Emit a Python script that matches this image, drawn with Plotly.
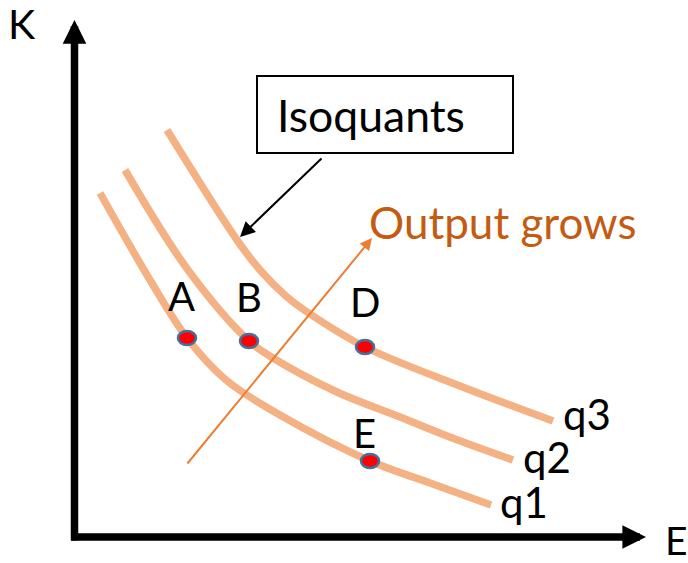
import plotly.graph_objects as go

# ---- data (diagram units: x grows right, y grows downward as in the picture) ----
q1_x = [100, 150, 187, 226, 280, 370, 430, 491]
q1_y = [193, 280, 338, 380, 415, 461, 483, 505]

q2_x = [125, 188, 249, 273, 337, 400, 455, 513]
q2_y = [170, 270, 341, 358, 392, 417, 439, 460]

q3_x = [167, 237, 260, 287, 310, 365, 460, 553]
q3_y = [130, 240, 270, 297, 314, 347, 386, 421]

curve_names = ["q1", "q2", "q3"]
curve_label_x = [524, 547, 587]
curve_label_y = [502, 457, 414]

point_names = ["A", "B", "D", "E"]
point_x = [187, 249, 365, 370]
point_y = [338, 341, 347, 461]
point_label_x = [181, 249, 365, 364]
point_label_y = [296, 297, 302, 433]

# axes of the diagram (origin, ends)
axis_origin = (74.5, 537)
k_axis_tip = (74.5, 20)
e_axis_tip = (646, 537)

# annotations
box_corners = (257, 76, 513, 153)
box_arrow_from = (322, 158)
box_arrow_to = (240, 237)
growth_from = (187, 464)
growth_to = (372, 238)

CURVE = "#F4B183"
ORANGE = "#ED7D31"
TEXT_ORANGE = "#C55A11"
FONT = "Lato, 'Open Sans', sans-serif"

fig = go.Figure()
for xs, ys in [(q1_x, q1_y), (q2_x, q2_y), (q3_x, q3_y)]:
    fig.add_trace(go.Scatter(
        x=xs, y=ys, mode="lines",
        line=dict(color=CURVE, width=7.5, shape="spline", smoothing=1),
        hoverinfo="skip", showlegend=False,
    ))

shapes = []
# Isoquants box
shapes.append(dict(type="rect", xref="x", yref="y",
                   x0=box_corners[0], y0=box_corners[1], x1=box_corners[2], y1=box_corners[3],
                   line=dict(color="black", width=2), fillcolor="white", layer="above"))
# dots
for px, py in zip(point_x, point_y):
    shapes.append(dict(type="circle", xref="x", yref="y",
                       xsizemode="pixel", ysizemode="pixel",
                       xanchor=px, yanchor=py, x0=-9, x1=9, y0=-7, y1=7,
                       fillcolor="#FF0000", line=dict(color="#41719C", width=2.5),
                       layer="above"))

annotations = []
def arrow(tip, tail, color, width, size):
    annotations.append(dict(
        x=tip[0], y=tip[1], ax=tail[0], ay=tail[1],
        xref="x", yref="y", axref="x", ayref="y",
        text="", showarrow=True, arrowhead=2, arrowsize=size,
        arrowwidth=width, arrowcolor=color, standoff=0, borderpad=0,
        font=dict(size=1),
    ))

# diagram axes
arrow(k_axis_tip, (axis_origin[0], axis_origin[1] + 4), "black", 7.5, 0.63)
arrow(e_axis_tip, (axis_origin[0] - 4, axis_origin[1]), "black", 7.5, 0.63)
# pointer to isoquant
arrow(box_arrow_to, box_arrow_from, "black", 2, 1.5)
# output growth arrow
arrow(growth_to, growth_from, ORANGE, 2, 1.2)

def label(txt, x, y, size, color="black"):
    annotations.append(dict(x=x, y=y, xref="x", yref="y", text=txt, showarrow=False,
                            xanchor="center", yanchor="middle", borderpad=0,
                            font=dict(family=FONT, size=size, color=color)))

label("K", 22, 23, 41)
label("E", 676, 540, 39)
for n, x, y in zip(curve_names, curve_label_x, curve_label_y):
    label(n, x, y, 42)
for n, x, y in zip(point_names, point_label_x, point_label_y):
    label(n, x, y, 40)
label("Isoquants", 371, 114, 44.5)
label("Output grows", 502, 222, 44, color=TEXT_ORANGE)

fig.update_layout(
    width=688, height=563,
    margin=dict(l=0, r=0, t=0, b=0),
    paper_bgcolor="white", plot_bgcolor="white",
    xaxis=dict(range=[0, 688], visible=False, fixedrange=True),
    yaxis=dict(range=[563, 0], visible=False, fixedrange=True),
    shapes=shapes, annotations=annotations, showlegend=False,
)
fig.write_html("out.html", config={"displayModeBar": False},
               post_script="document.body.style.margin='0px';")
